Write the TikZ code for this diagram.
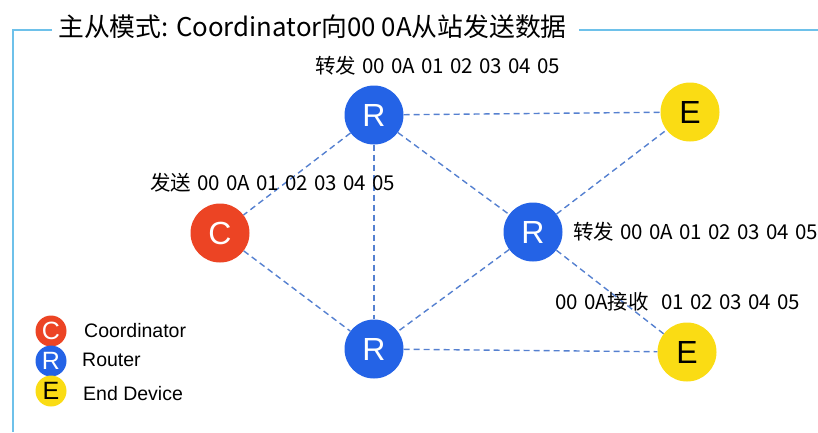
\documentclass[tikz,border=0pt]{standalone}
\usepackage{fontspec}
\setmainfont{Liberation Sans}
\newfontfamily\cjk{Noto Sans CJK SC}
\newcommand\msgfont{\cjk\fontsize{20.5}{20.5}\selectfont\spaceskip=6.2pt\relax}
\definecolor{framec}{HTML}{6EC1EA}
\definecolor{linkc}{HTML}{5580D0}
\definecolor{coordc}{HTML}{EC4424}
\definecolor{routerc}{HTML}{2463E6}
\definecolor{endc}{HTML}{FADC14}
\tikzset{
  dev/.style={circle, minimum size=59pt, inner sep=0pt, font=\fontsize{32}{32}\selectfont},
  coord/.style={dev, fill=coordc, text=white},
  router/.style={dev, fill=routerc, text=white},
  enddev/.style={dev, fill=endc, text=black},
  small/.style={minimum size=31pt, font=\fontsize{25}{25}\selectfont},
  link/.style={draw=linkc, line width=1.4pt, dash pattern=on 6pt off 4pt},
  msg/.style={anchor=west, inner sep=0pt, font=\msgfont},
  legtext/.style={anchor=west, inner sep=0pt, font=\fontsize{19.5}{19.5}\selectfont},
}
\begin{document}
\begin{tikzpicture}[x=1pt, y=-1pt]
\useasboundingbox (0,0) rectangle (818,432);
% frame with title gap
\draw[framec, line width=2pt] (52,30) -- (13,30) -- (13,432);
\draw[framec, line width=2pt] (579,30) -- (818,30);
\node[anchor=west, inner sep=0pt, font=\cjk\fontsize{25.8}{25.8}\selectfont] (title) at (58,27) {主从模式: Coordinator向00 0A从站发送数据};

% devices
\node[router] (r1) at (374,115) {R};
\node[enddev] (e1) at (690,112) {E};
\node[coord] (c) at (220,233) {C};
\node[router] (r2) at (533,232) {R};
\node[router] (r3) at (374,349) {R};
\node[enddev] (e2) at (687,352) {E};

% links
\path[link] (r1) -- (e1);
\path[link] (r1) -- (c);
\path[link] (r1) -- (r3);
\path[link] (r1) -- (r2);
\path[link] (c) -- (r3);
\path[link] (r2) -- (e1);
\path[link] (r2) -- (r3);
\path[link] (r2) -- (e2);
\path[link] (r3) -- (e2);

% messages
\node[msg] (m1) at (315,66) {转发 00 0A 01 02 03 04 05};
\node[msg] (m2) at (150,183) {发送 00 0A 01 02 03 04 05};
\node[msg] (m3) at (573,232) {转发 00 0A 01 02 03 04 05};
\node[msg] (m4) at (555,302) {00 0A接收\ \ 01 02 03 04 05};

% legend
\node[coord, small] (lc) at (51,331) {C};
\node[router, small] (lr) at (51,361) {R};
\node[enddev, small] (le) at (51,391) {E};
\node[legtext] (tc) at (84,331) {Coordinator};
\node[legtext] (tr) at (82,360) {Router};
\node[legtext] (te) at (83,394) {End Device};
\end{tikzpicture}
\end{document}
